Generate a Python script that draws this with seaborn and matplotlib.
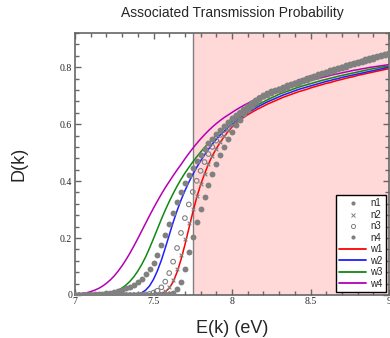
import numpy as np
import matplotlib
matplotlib.use("Agg")
import matplotlib.pyplot as plt
from matplotlib.lines import Line2D
from matplotlib.ticker import MultipleLocator, FuncFormatter
import seaborn as sns

# Energy grid (eV)
energy = np.linspace(7.0, 9.0, 81)

# Transmission curves D(k) for the four wide-barrier cases (lines)
w1 = [0.0] * 20 + [
    0.001, 0.002, 0.005, 0.011, 0.024, 0.046, 0.080, 0.124, 0.176, 0.233,
    0.290, 0.342, 0.387, 0.425, 0.460, 0.489, 0.514, 0.536, 0.556, 0.574,
    0.590, 0.603, 0.614, 0.624, 0.633, 0.641, 0.649, 0.656, 0.663, 0.670,
    0.676, 0.682, 0.688, 0.694, 0.699, 0.704, 0.709, 0.714, 0.718, 0.722,
    0.727, 0.731, 0.735, 0.739, 0.743, 0.746, 0.750, 0.754, 0.757, 0.761,
    0.764, 0.767, 0.771, 0.774, 0.777, 0.780, 0.783, 0.786, 0.789, 0.792,
    0.795]
w2 = [0.0] * 15 + [
    0.001, 0.003, 0.008, 0.017, 0.032, 0.055, 0.085, 0.122, 0.165, 0.210,
    0.255, 0.296, 0.333, 0.366, 0.396, 0.423, 0.448, 0.471, 0.492, 0.512,
    0.530, 0.547, 0.562, 0.575, 0.588, 0.600, 0.611, 0.621, 0.631, 0.640,
    0.648, 0.656, 0.664, 0.671, 0.678, 0.684, 0.690, 0.696, 0.702, 0.707,
    0.712, 0.717, 0.722, 0.726, 0.730, 0.734, 0.738, 0.742, 0.746, 0.750,
    0.753, 0.757, 0.760, 0.764, 0.767, 0.770, 0.773, 0.776, 0.779, 0.782,
    0.785, 0.788, 0.791, 0.794, 0.797, 0.800]
w3 = [
    0.000, 0.000, 0.000, 0.000, 0.000, 0.001, 0.001, 0.002, 0.004, 0.007,
    0.011, 0.017, 0.025, 0.035, 0.048, 0.064, 0.084, 0.107, 0.134, 0.165,
    0.198, 0.232, 0.266, 0.298, 0.328, 0.356, 0.382, 0.406, 0.428, 0.448,
    0.467, 0.485, 0.502, 0.518, 0.533, 0.547, 0.561, 0.574, 0.586, 0.598,
    0.609, 0.619, 0.629, 0.638, 0.647, 0.655, 0.663, 0.671, 0.678, 0.685,
    0.692, 0.698, 0.705, 0.710, 0.715, 0.720, 0.725, 0.730, 0.734, 0.738,
    0.742, 0.746, 0.750, 0.754, 0.757, 0.761, 0.764, 0.768, 0.771, 0.774,
    0.777, 0.780, 0.783, 0.786, 0.789, 0.792, 0.795, 0.797, 0.800, 0.802,
    0.804]
w4 = [
    0.002, 0.003, 0.005, 0.008, 0.012, 0.017, 0.023, 0.031, 0.041, 0.053,
    0.067, 0.084, 0.103, 0.124, 0.147, 0.172, 0.198, 0.225, 0.252, 0.279,
    0.305, 0.330, 0.354, 0.377, 0.398, 0.419, 0.439, 0.458, 0.478, 0.497,
    0.515, 0.532, 0.548, 0.563, 0.577, 0.590, 0.602, 0.613, 0.623, 0.632,
    0.641, 0.650, 0.658, 0.666, 0.673, 0.680, 0.686, 0.692, 0.698, 0.703,
    0.709, 0.714, 0.719, 0.724, 0.728, 0.733, 0.737, 0.741, 0.745, 0.749,
    0.753, 0.757, 0.760, 0.764, 0.767, 0.771, 0.774, 0.777, 0.780, 0.783,
    0.786, 0.789, 0.791, 0.794, 0.796, 0.799, 0.801, 0.803, 0.805, 0.807,
    0.809]

# Transmission curves for the four narrow-barrier cases (markers)
n1 = [
    0.000, 0.000, 0.000, 0.001, 0.001, 0.002, 0.003, 0.004, 0.006, 0.008,
    0.011, 0.014, 0.018, 0.023, 0.029, 0.036, 0.045, 0.057, 0.072, 0.091,
    0.114, 0.142, 0.174, 0.210, 0.248, 0.287, 0.325, 0.360, 0.392, 0.421,
    0.447, 0.471, 0.493, 0.513, 0.532, 0.549, 0.565, 0.580, 0.594, 0.607,
    0.620, 0.632, 0.643, 0.654, 0.664, 0.674, 0.683, 0.692, 0.700, 0.709,
    0.715, 0.720, 0.725, 0.730, 0.736, 0.741, 0.746, 0.751, 0.756, 0.761,
    0.766, 0.770, 0.775, 0.780, 0.784, 0.789, 0.793, 0.798, 0.802, 0.806,
    0.811, 0.815, 0.819, 0.823, 0.827, 0.831, 0.835, 0.839, 0.843, 0.847,
    0.851]
n2 = [0.0] * 20 + [
    0.001, 0.003, 0.006, 0.013, 0.027, 0.052, 0.090, 0.140, 0.196, 0.252,
    0.303, 0.349, 0.390, 0.426, 0.459, 0.488, 0.514, 0.538, 0.559, 0.578,
    0.596, 0.612, 0.627, 0.640, 0.653, 0.665, 0.676, 0.686, 0.696, 0.708,
    0.714, 0.719, 0.724, 0.729, 0.735, 0.740, 0.745, 0.750, 0.755, 0.760,
    0.765, 0.769, 0.774, 0.779, 0.783, 0.788, 0.792, 0.797, 0.801, 0.805,
    0.810, 0.814, 0.818, 0.822, 0.826, 0.830, 0.834, 0.838, 0.842, 0.846,
    0.850]
n3 = [0.0] * 18 + [
    0.002, 0.004, 0.008, 0.015, 0.027, 0.047, 0.077, 0.117, 0.165, 0.218,
    0.270, 0.318, 0.362, 0.401, 0.436, 0.467, 0.495, 0.520, 0.542, 0.562,
    0.580, 0.597, 0.612, 0.626, 0.639, 0.651, 0.662, 0.673, 0.683, 0.692,
    0.701, 0.706, 0.712, 0.717, 0.722, 0.727, 0.733, 0.738, 0.743, 0.748,
    0.753, 0.758, 0.763, 0.767, 0.772, 0.777, 0.781, 0.786, 0.790, 0.795,
    0.799, 0.803, 0.808, 0.812, 0.816, 0.820, 0.824, 0.828, 0.832, 0.836,
    0.840, 0.844, 0.848]
n4 = [0.0] * 23 + [
    0.001, 0.003, 0.008, 0.020, 0.046, 0.092, 0.150, 0.205, 0.256, 0.302,
    0.345, 0.386, 0.424, 0.459, 0.491, 0.521, 0.548, 0.573, 0.596, 0.616,
    0.634, 0.650, 0.665, 0.678, 0.690, 0.700, 0.704, 0.710, 0.715, 0.720,
    0.725, 0.731, 0.736, 0.741, 0.746, 0.751, 0.756, 0.761, 0.765, 0.770,
    0.775, 0.779, 0.784, 0.788, 0.793, 0.797, 0.801, 0.806, 0.810, 0.814,
    0.818, 0.822, 0.826, 0.830, 0.834, 0.838, 0.842, 0.846]

line_labels = ["w1", "w2", "w3", "w4"]
line_colors = ["#ff0000", "#1f1fff", "#118811", "#b400b4"]
dot_labels = ["n1", "n2", "n3", "n4"]
gray = "#808080"

sns.set_style("ticks")
plt.rcParams["font.family"] = ["Liberation Sans", "DejaVu Sans"]

fig = plt.figure(figsize=(3.9, 3.38), dpi=100)
ax = fig.add_axes([75 / 390, 1 - 295 / 338, 314 / 390, 262 / 338])

# shaded energy window above 7.75 eV
ax.axvspan(7.75, 9.0, color="#ffd8d8", lw=0, zorder=0)
ax.axvline(7.75, color="#808080", lw=1.0, zorder=1)

for vals, col in zip([w1, w2, w3, w4], line_colors):
    sns.lineplot(x=energy, y=vals, color=col, lw=1.1, ax=ax,
                 legend=False, zorder=2)

sns.scatterplot(x=energy, y=n1, color=gray, marker="o", s=18,
                linewidth=0, ax=ax, legend=False, zorder=3)
sns.scatterplot(x=energy, y=n2, color=gray, marker="x", s=7,
                linewidth=0.8, ax=ax, legend=False, zorder=3)
sns.scatterplot(x=energy, y=n3, color=gray, marker="o", s=11,
                linewidth=0.8, ax=ax, legend=False, zorder=3)
ax.collections[-1].set_facecolor("none")
ax.collections[-1].set_edgecolor(gray)
sns.scatterplot(x=energy, y=n4, color=gray, marker="o", s=18,
                linewidth=0, ax=ax, legend=False, zorder=3)

ax.set_xlim(7.0, 9.0)
ax.set_ylim(0.0, 0.92)
ax.xaxis.set_major_locator(MultipleLocator(0.5))
ax.xaxis.set_minor_locator(MultipleLocator(0.1))
ax.yaxis.set_major_locator(MultipleLocator(0.2))
ax.yaxis.set_minor_locator(MultipleLocator(0.04))
fmt = FuncFormatter(lambda v, p: f"{v:g}")
ax.xaxis.set_major_formatter(fmt)
ax.yaxis.set_major_formatter(fmt)

spine_col = "#666666"
for sp in ax.spines.values():
    sp.set_color(spine_col)
    sp.set_linewidth(1.2)
    sp.set_visible(True)
ax.tick_params(which="both", direction="in", top=True, right=True,
               color=spine_col, width=1.0)
ax.tick_params(which="major", length=4.5)
ax.tick_params(which="minor", length=2.8)
ax.tick_params(axis="x", which="major", pad=1.5)
ax.tick_params(axis="y", which="major", pad=2)
for lab in ax.get_xticklabels() + ax.get_yticklabels():
    lab.set_family("Liberation Serif")
    lab.set_fontsize(7)

ax.set_title("Associated Transmission Probability", fontsize=10, pad=11.5)
ax.set_xlabel("E(k) (eV)", fontsize=13)
ax.set_ylabel("D(k)", fontsize=13)
ax.xaxis.set_label_coords(0.5, -0.095)
ax.yaxis.set_label_coords(-0.15, 0.5)

handles = [
    Line2D([], [], ls="", marker="o", ms=3, color=gray, mew=0),
    Line2D([], [], ls="", marker="x", ms=2.5, color=gray, mew=0.7),
    Line2D([], [], ls="", marker="o", ms=3, mfc="none", mec=gray, mew=0.7),
    Line2D([], [], ls="", marker="o", ms=3, color=gray, mew=0),
] + [Line2D([], [], color=c, lw=1.3) for c in line_colors]
leg = ax.legend(handles, dot_labels + line_labels, loc="lower right",
                fontsize=7, frameon=True, fancybox=False, framealpha=1,
                edgecolor="black", handlelength=2.8, handletextpad=0.4,
                labelspacing=0.15, borderpad=0.35, borderaxespad=0.3)
leg.get_frame().set_linewidth(1.0)

fig.savefig("out.png", dpi=100)
